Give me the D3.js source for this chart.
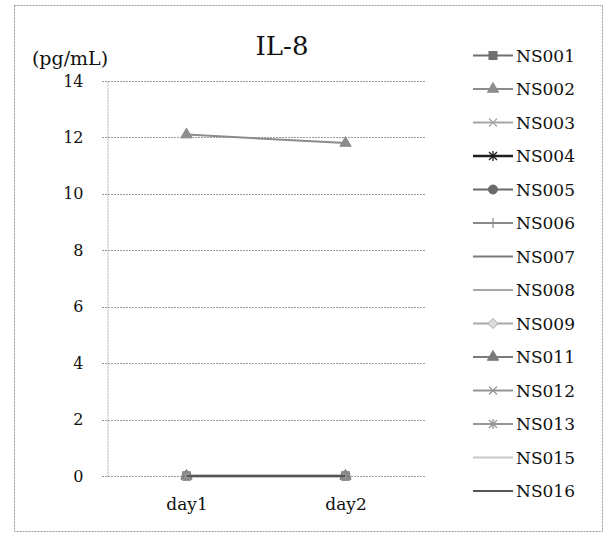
<!DOCTYPE html>
<html>
<head>
<meta charset="utf-8">
<script src="https://cdn.jsdelivr.net/npm/d3@7"></script>
<style>
  body { margin: 0; background: #fff; }
  text { font-family: "DejaVu Serif", serif; fill: #111; }
</style>
</head>
<body>
<svg width="607" height="533"></svg>
<script>
// chart data
const categories = ["day1", "day2"];
const seriesNames = ["NS001", "NS002", "NS003", "NS004", "NS005", "NS006", "NS007",
  "NS008", "NS009", "NS011", "NS012", "NS013", "NS015", "NS016"];
const seriesValues = [
  [0, 0], [12.1, 11.8], [0, 0], [0, 0], [0, 0], [0, 0], [0, 0],
  [0, 0], [0, 0], [0, 0], [0, 0], [0, 0], [0, 0], [0, 0]
];
const yTicks = [0, 2, 4, 6, 8, 10, 12, 14];

// look of each series (grey scale print)
const seriesColors = ["#6f6f6f", "#8c8c8c", "#a5a5a5", "#1e1e1e", "#6a6a6a", "#8a8a8a", "#7a7a7a",
  "#a8a8a8", "#a8a8a8", "#7a7a7a", "#959595", "#959595", "#c8c8c8", "#555555"];
const seriesMarkers = ["square", "triangle", "x", "asterisk", "circle", "plus", "none",
  "none", "diamond", "triangle", "x", "asterisk", "none", "none"];

const svg = d3.select("svg");

// outer frame
svg.append("rect")
  .attr("x", 14.5).attr("y", 5.5)
  .attr("width", 588).attr("height", 526)
  .attr("fill", "none")
  .attr("stroke", "#999")
  .attr("stroke-dasharray", "2,1");

const x = d3.scalePoint().domain(categories).range([107, 425]).padding(0.5);
const y = d3.scaleLinear().domain([0, 14]).range([476, 81]);

// gridlines
svg.append("g")
  .selectAll("line")
  .data(yTicks)
  .join("line")
  .attr("x1", 102).attr("x2", 425)
  .attr("y1", (d) => Math.round(y(d)) + 0.5)
  .attr("y2", (d) => Math.round(y(d)) + 0.5)
  .attr("stroke", "#9a9a9a")
  .attr("stroke-dasharray", "2,1");

// left axis
const yAxis = svg.append("g")
  .attr("transform", "translate(107.5,0)")
  .call(d3.axisLeft(y).tickValues(yTicks).tickSize(0).tickPadding(24));
yAxis.select(".domain").attr("stroke", "#aaa").attr("stroke-dasharray", "2,1");
yAxis.selectAll("text")
  .style("font-family", "DejaVu Serif")
  .style("font-size", "16px")
  .attr("fill", "#111");

// bottom category labels
const xAxis = svg.append("g")
  .attr("transform", "translate(0,476)")
  .call(d3.axisBottom(x).tickSize(0).tickPadding(22));
xAxis.select(".domain").remove();
xAxis.selectAll("text")
  .style("font-family", "DejaVu Serif")
  .style("font-size", "17px")
  .attr("fill", "#111");

svg.append("text")
  .attr("x", 70).attr("y", 65)
  .attr("text-anchor", "middle")
  .style("font-size", "19px")
  .text("(pg/mL)");

svg.append("text")
  .attr("x", 282).attr("y", 55)
  .attr("text-anchor", "middle")
  .style("font-size", "26px")
  .text("IL-8");

// marker drawing
function drawMarker(g, type, color) {
  if (type === "none") return;
  if (type === "square") {
    g.append("rect").attr("x", -4).attr("y", -4).attr("width", 8).attr("height", 8)
      .attr("fill", color).attr("stroke", color);
  } else if (type === "triangle") {
    g.append("path").attr("d", d3.symbol(d3.symbolTriangle, 55)())
      .attr("fill", color).attr("stroke", color);
  } else if (type === "circle") {
    g.append("circle").attr("r", 4.5).attr("fill", color).attr("stroke", color);
  } else if (type === "diamond") {
    g.append("path").attr("d", "M0,-5L5,0L0,5L-5,0Z")
      .attr("fill", "#ddd").attr("stroke", color);
  } else if (type === "x") {
    g.append("path").attr("d", "M-4,-4L4,4M-4,4L4,-4")
      .attr("stroke", color).attr("stroke-width", 1.2).attr("fill", "none");
  } else if (type === "asterisk") {
    g.append("path").attr("d", "M-4,-4L4,4M-4,4L4,-4M0,-5V5")
      .attr("stroke", color).attr("stroke-width", 1.3).attr("fill", "none");
  } else if (type === "plus") {
    g.append("path").attr("d", "M0,-5V5M-5,0H5")
      .attr("stroke", color).attr("stroke-width", 1.2).attr("fill", "none");
  }
}

// series lines
const line = d3.line()
  .x((d, i) => x(categories[i]))
  .y((d) => y(d));

const plot = svg.append("g");
seriesValues.forEach((vals, s) => {
  plot.append("path")
    .datum(vals)
    .attr("d", line)
    .attr("fill", "none")
    .attr("stroke", seriesColors[s])
    .attr("stroke-width", s === 3 ? 2.5 : 2);
  vals.forEach((v, i) => {
    const g = plot.append("g")
      .attr("transform", `translate(${x(categories[i])},${y(v)})`);
    drawMarker(g, seriesMarkers[s], seriesColors[s]);
  });
});

// legend
const legend = svg.append("g");
seriesNames.forEach((name, s) => {
  const ly = 55.5 + s * 33.5;
  const g = legend.append("g").attr("transform", `translate(0,${ly})`);
  g.append("line")
    .attr("x1", 473).attr("x2", 513)
    .attr("stroke", seriesColors[s])
    .attr("stroke-width", s === 3 ? 2.5 : 2);
  const m = g.append("g").attr("transform", "translate(493,0)");
  drawMarker(m, seriesMarkers[s], seriesColors[s]);
  g.append("text")
    .attr("x", 516).attr("y", 6)
    .style("font-size", "17px")
    .text(name);
});
</script>
</body>
</html>
